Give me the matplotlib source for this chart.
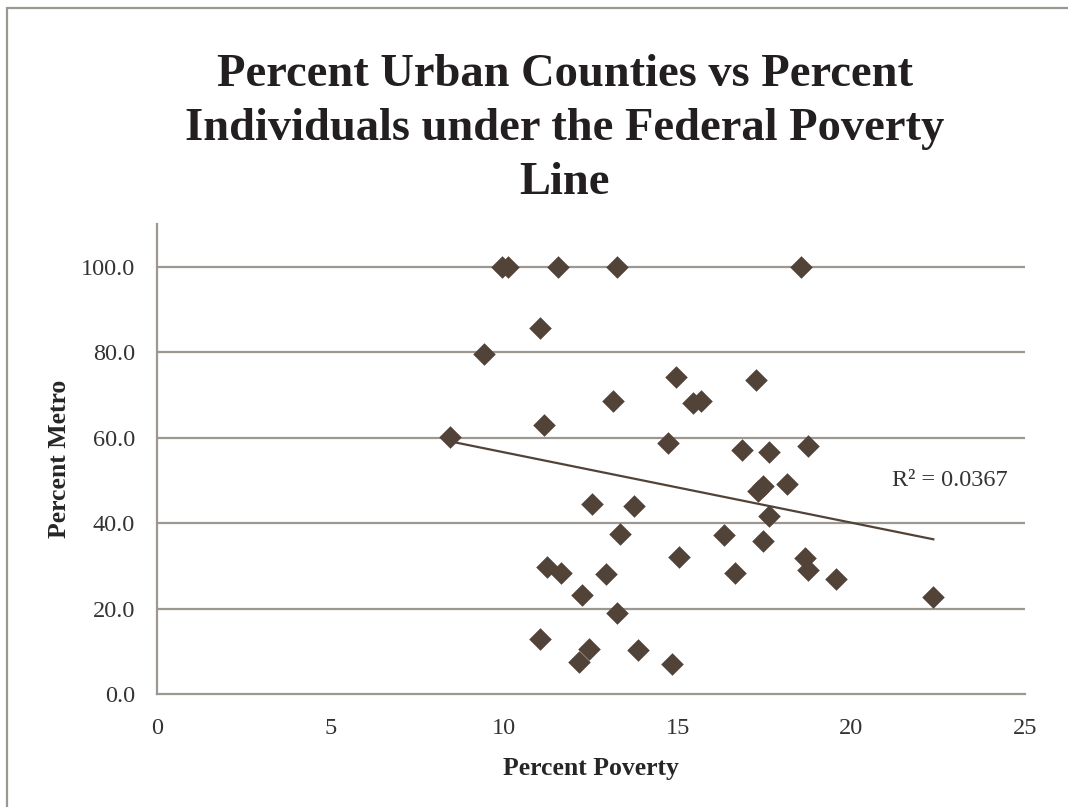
import numpy as np
import matplotlib
matplotlib.use("Agg")
import matplotlib.pyplot as plt
from matplotlib.patches import Rectangle

# Percent of individuals under the federal poverty line, per state/region
poverty = [8.44, 9.42, 9.95, 10.10, 11.54, 13.24, 18.55,
           11.04, 14.94, 13.14, 15.45, 15.66, 17.25, 11.14,
           14.73, 16.85, 17.64, 18.75, 17.44, 17.32, 18.14,
           17.64, 12.54, 13.74, 13.34, 16.34, 17.44, 15.04,
           18.66, 18.74, 19.55, 11.22, 11.65, 12.94, 16.64,
           12.24, 13.24, 11.04, 12.45, 12.14, 13.84, 14.84,
           22.36]
# Percent of counties classified as metro
metro = [60.2, 79.6, 100.0, 100.0, 100.0, 100.0, 100.0,
         85.7, 74.2, 68.6, 68.1, 68.6, 73.4, 63.0,
         58.7, 57.0, 56.6, 58.0, 48.7, 47.5, 49.2,
         41.7, 44.4, 44.1, 37.5, 37.3, 35.7, 32.1,
         31.9, 29.0, 26.9, 29.8, 28.4, 28.0, 28.4,
         23.1, 19.0, 12.9, 10.6, 7.4, 10.4, 7.0,
         22.7]

x_ticks = [0, 5, 10, 15, 20, 25]
y_ticks = [0, 20, 40, 60, 80, 100]

title = "Percent Urban Counties vs Percent\nIndividuals under the Federal Poverty\nLine"

plt.rcParams['font.family'] = ['Liberation Serif', 'DejaVu Serif']

marker_color = '#524339'
grid_color = '#9d9792'
text_color = '#262626'

fig = plt.figure(figsize=(10.68, 8.07), dpi=100)
fig.patch.set_facecolor('white')

# outer chart-area frame
fig.patches.append(Rectangle((7 / 1068, -0.1), 1.2, 1 - 8 / 807 + 0.1,
                             transform=fig.transFigure, fill=False,
                             edgecolor=grid_color, linewidth=1.6))

ax = fig.add_axes([157 / 1068, 1 - 694 / 807, (1025 - 157) / 1068, (694 - 224) / 807])

x = np.array(poverty)
y = np.array(metro)
ax.scatter(x, y, marker='D', s=11.5 ** 2, color=marker_color, linewidths=0, zorder=3)

# linear trend line
slope, intercept = np.polyfit(x, y, 1)
xs = np.array([x.min(), x.max()])
ax.plot(xs, slope * xs + intercept, color=marker_color, linewidth=1.6, zorder=4)
pred = slope * x + intercept
r2 = 1 - np.sum((y - pred) ** 2) / np.sum((y - y.mean()) ** 2)
ax.text(22.84, 50.0, f"R² = {r2:.4f}", fontsize=17.5, color='#333333', ha='center', va='center')

ax.set_xlim(0, 25)
ax.set_ylim(0, 110)
ax.set_xticks(x_ticks)
ax.set_yticks(y_ticks)
ax.set_xticklabels([str(t) for t in x_ticks])
ax.set_yticklabels([f"{t:.1f}" for t in y_ticks])
ax.tick_params(axis='both', length=0, labelsize=17.5, labelcolor='#333333')
ax.tick_params(axis='x', pad=17)
ax.tick_params(axis='y', pad=16)

for t in y_ticks[1:]:
    ax.axhline(t, color=grid_color, linewidth=1.6, zorder=1)

for side in ['top', 'right']:
    ax.spines[side].set_visible(False)
for side in ['left', 'bottom']:
    ax.spines[side].set_color(grid_color)
    ax.spines[side].set_linewidth(1.6)

ax.set_xlabel("Percent Poverty", fontsize=18.5, fontweight='bold', color=text_color, labelpad=13)
ax.set_ylabel("Percent Metro", fontsize=18.5, fontweight='bold', color=text_color, labelpad=7)

fig.text(565 / 1068, 1 - 129 / 807, title, fontsize=33.5, fontweight='bold',
         color='#231f20', ha='center', va='center', linespacing=1.36)

fig.savefig("out.png", dpi=100, facecolor='white')
